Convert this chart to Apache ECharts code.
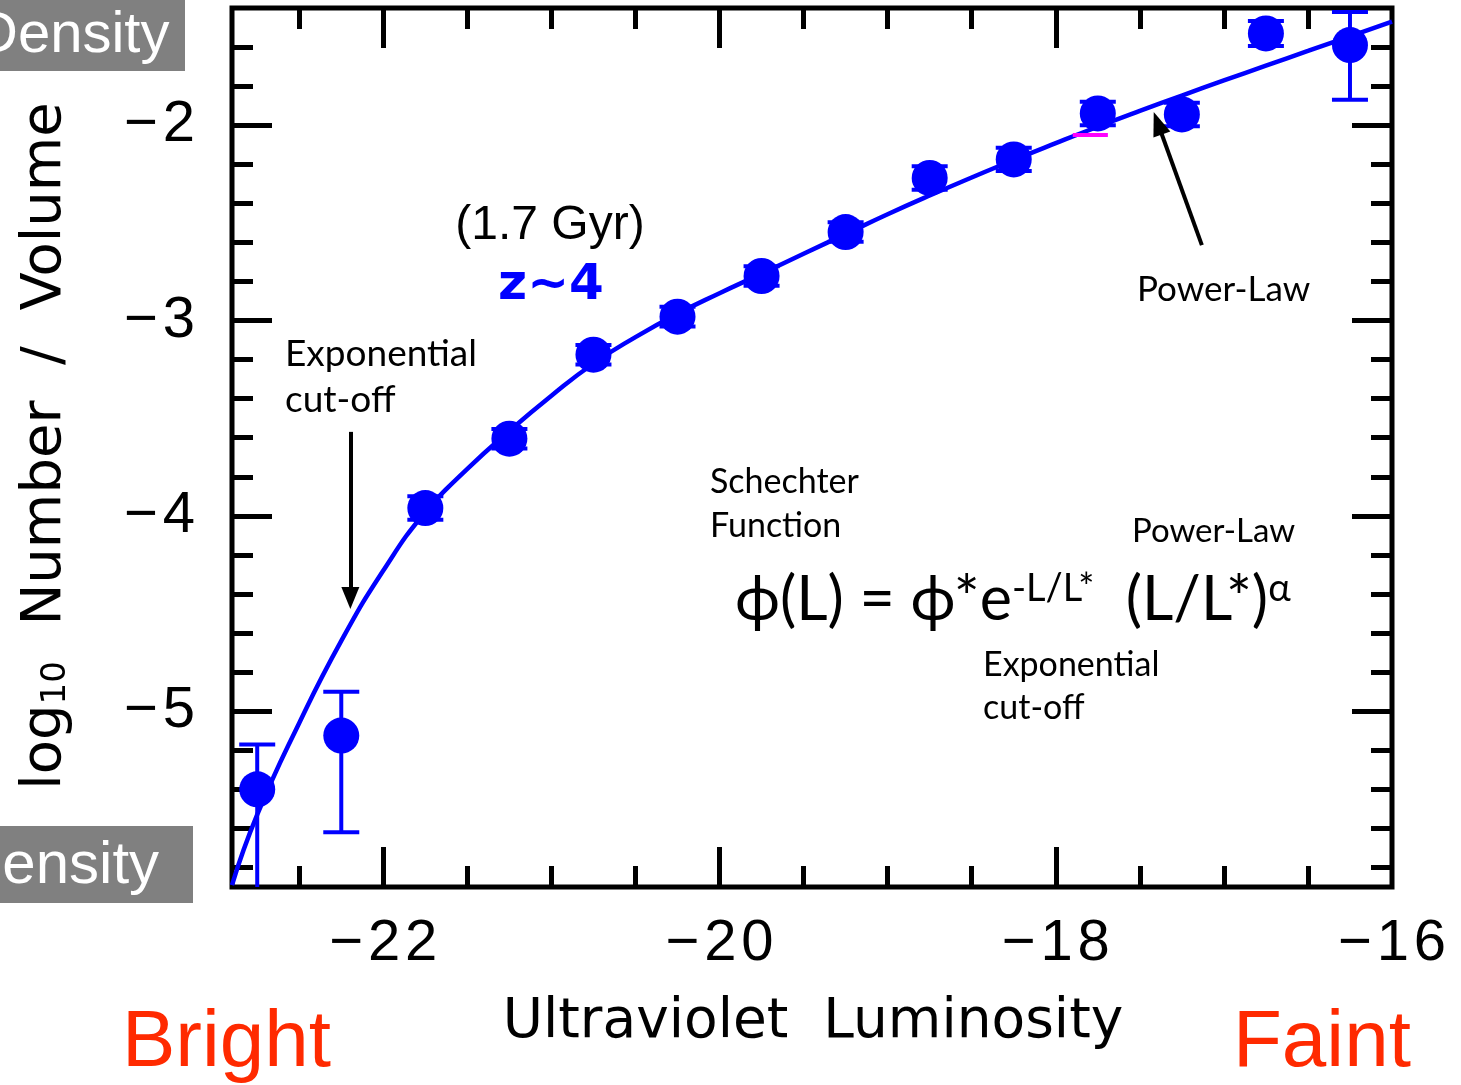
<!DOCTYPE html>
<html>
<head>
<meta charset="utf-8">
<script src="https://cdn.jsdelivr.net/npm/echarts@6/dist/echarts.min.js"></script>
<style>
  html, body { margin: 0; padding: 0; background: #fff; }
  #chart { width: 1461px; height: 1085px; }
</style>
</head>
<body>
<div id="chart"></div>
<script>
// binned points (UV absolute magnitude, log10 number density)
const mag = [-22.75, -22.25, -21.75, -21.25, -20.75, -20.25, -19.75, -19.25, -18.75, -18.25, -17.75, -17.25, -16.75, -16.25];
const logPhi = [-5.40, -5.125, -3.96, -3.605, -3.175, -2.98, -2.772, -2.547, -2.27, -2.175, -1.94, -1.945, -1.53, -1.59];
const errLo = [-6.3, -5.62, -4.02, -3.655, -3.225, -3.03, -2.822, -2.597, -2.33, -2.235, -2.0, -2.005, -1.594, -1.87];
const errHi = [-5.17, -4.90, -3.90, -3.555, -3.125, -2.93, -2.722, -2.497, -2.21, -2.115, -1.88, -1.885, -1.466, -1.42];

// fitted Schechter curve
const curveMag = [-22.9, -22.75, -22.5, -22.25, -22.0, -21.75, -21.5, -21.25, -21.0, -20.75, -20.5, -20.25, -20.0,
  -19.75, -19.5, -19.25, -19.0, -18.75, -18.5, -18.25, -18.0, -17.75, -17.5, -17.25, -17.0, -16.75, -16.5, -16.25, -16.0];
const curveLogPhi = [-5.89, -5.53, -5.06, -4.64, -4.28, -3.98, -3.76, -3.565, -3.385, -3.22, -3.085, -2.965, -2.86,
  -2.76, -2.658, -2.557, -2.456, -2.36, -2.268, -2.178, -2.092, -2.008, -1.927, -1.848, -1.771, -1.695, -1.62, -1.545, -1.47];

// ticks
const xLabels = [-22, -20, -18, -16];
const xMinor = [-22.5, -21.5, -21, -20.5, -19.5, -19, -18.5, -17.5, -17, -16.5];
const yLabels = [-2, -3, -4, -5];
const yMinor = [-1.6, -1.8, -2.2, -2.4, -2.6, -2.8, -3.2, -3.4, -3.6, -3.8, -4.2, -4.4, -4.6, -4.8, -5.2, -5.4, -5.6, -5.8];

const xMin = -22.9, xMax = -16, yMin = -5.9, yMax = -1.4;
const blue = '#0000ff';
// IDL-style loosely spaced labels
const minus = v => '\u2212\u200a' + String(Math.abs(v)).split('').join('\u200a');

const chart = echarts.init(document.getElementById('chart'));

const gridBox = { left: 232, right: 69, top: 8, bottom: 198, containLabel: false, outerBoundsMode: 'none' };

function xAx(grid, pos, ticks, len, labels) {
  return {
    type: 'value', gridIndex: grid, position: pos, min: xMin, max: xMax,
    axisLine: { show: false },
    splitLine: { show: false },
    axisTick: { show: true, inside: true, length: len, customValues: ticks, lineStyle: { color: '#000', width: 5 } },
    axisLabel: labels ? {
      show: true, customValues: labels, formatter: minus, margin: 28, showMaxLabel: true, showMinLabel: true,
      fontFamily: 'Liberation Sans', fontSize: 58, color: '#000'
    } : { show: false }
  };
}
function yAx(grid, pos, ticks, len, labels) {
  return {
    type: 'value', gridIndex: grid, position: pos, min: yMin, max: yMax,
    axisLine: { show: false },
    splitLine: { show: false },
    axisTick: { show: true, inside: true, length: len, customValues: ticks, lineStyle: { color: '#000', width: 5 } },
    axisLabel: labels ? {
      show: true, customValues: labels, formatter: minus, margin: 37,
      fontFamily: 'Liberation Sans', fontSize: 58, color: '#000'
    } : { show: false }
  };
}

const annoFont = "Lato, 'DejaVu Sans', sans-serif";
function note(text, x, y, size) {
  return { type: 'text', x: x, y: y, z: 10, style: { text: text, fill: '#000', font: size + 'px ' + annoFont, textAlign: 'left', textVerticalAlign: 'middle' } };
}

const option = {
  backgroundColor: '#fff',
  animation: false,
  grid: [
    Object.assign({ show: true, borderColor: '#000', borderWidth: 5, backgroundColor: 'transparent' }, gridBox),
    Object.assign({ show: false }, gridBox)
  ],
  xAxis: [
    xAx(0, 'bottom', [-22, -20, -18], 40, xLabels),
    xAx(0, 'top', [-22, -20, -18], 40, null),
    xAx(1, 'bottom', xMinor, 21, null),
    xAx(1, 'top', xMinor, 21, null)
  ],
  yAxis: [
    yAx(0, 'left', yLabels, 40, yLabels),
    yAx(0, 'right', yLabels, 40, null),
    yAx(1, 'left', yMinor, 21, null),
    yAx(1, 'right', yMinor, 21, null)
  ],
  series: [
    {
      type: 'line', xAxisIndex: 0, yAxisIndex: 0, z: 2,
      data: curveMag.map((m, i) => [m, curveLogPhi[i]]),
      smooth: 0.5, showSymbol: false, clip: true,
      lineStyle: { color: blue, width: 4.5 },
      markLine: {
        silent: true, animation: false,
        label: { show: false },
        data: [
          [{ coord: [-22.196, -3.57], symbol: 'none' },
           { coord: [-22.196, -4.42], symbol: 'triangle', symbolSize: [18, 22], symbolRotate: 180 }],
          [{ coord: [-17.131, -2.614], symbol: 'none' },
           { coord: [-17.393, -1.99], symbol: 'triangle', symbolSize: [18, 24] }],
          [{ coord: [-17.899, -2.051], symbol: 'none', lineStyle: { color: '#ff00ff', width: 4, type: 'solid' } },
           { coord: [-17.69, -2.051], symbol: 'none' }]
        ],
        lineStyle: { color: '#000', width: 4, type: 'solid' },
        itemStyle: { color: '#000' }
      }
    },
    {
      type: 'custom', xAxisIndex: 0, yAxisIndex: 0, z: 3, clip: true,
      data: mag.map((m, i) => [m, errLo[i], errHi[i]]),
      encode: { x: 0, y: [1, 2] },
      renderItem: function (params, api) {
        const x = api.value(0);
        const lo = api.coord([x, api.value(1)]);
        const hi = api.coord([x, api.value(2)]);
        const hw = 18;
        const st = { stroke: blue, lineWidth: 4 };
        return {
          type: 'group',
          children: [
            { type: 'line', shape: { x1: lo[0], y1: lo[1], x2: hi[0], y2: hi[1] }, style: st },
            { type: 'line', shape: { x1: lo[0] - hw, y1: lo[1], x2: lo[0] + hw, y2: lo[1] }, style: st },
            { type: 'line', shape: { x1: hi[0] - hw, y1: hi[1], x2: hi[0] + hw, y2: hi[1] }, style: st }
          ]
        };
      }
    },
    {
      type: 'scatter', xAxisIndex: 0, yAxisIndex: 0, z: 4,
      data: mag.map((m, i) => [m, logPhi[i]]),
      symbol: 'circle', symbolSize: 36,
      itemStyle: { color: blue, opacity: 1 }
    }
  ],
  graphic: [
    // grey "Density" tabs
    { type: 'rect', shape: { x: 0, y: 0, width: 185, height: 71 }, style: { fill: '#808080' }, z: 10 },
    { type: 'text', x: -24, y: 36, z: 11, style: { text: 'Density', fill: '#fff', font: "58px 'Liberation Sans'", textVerticalAlign: 'middle' } },
    { type: 'rect', shape: { x: 0, y: 826, width: 193, height: 77 }, style: { fill: '#808080' }, z: 10 },
    { type: 'text', x: -41, y: 866, z: 11, style: { text: 'Density', fill: '#fff', font: "60px 'Liberation Sans'", textVerticalAlign: 'middle' } },

    // axis titles
    { type: 'text', x: 813, y: 1023, z: 10, style: { text: 'Ultraviolet  Luminosity', fill: '#000', font: "55px 'DejaVu Sans'", textAlign: 'center', textVerticalAlign: 'middle' } },
    {
      type: 'text', x: 45, y: 446, rotation: Math.PI / 2, z: 10,
      style: {
        text: '{a|log}{b|10}{a|  Number  /  Volume}', fill: '#000', textAlign: 'center', textVerticalAlign: 'middle',
        rich: {
          a: { font: "56px 'DejaVu Sans'", fill: '#000' },
          b: { font: "34px 'DejaVu Sans'", fill: '#000', verticalAlign: 'bottom' }
        }
      }
    },
    { type: 'text', x: 122, y: 1044, z: 10, style: { text: 'Bright', fill: '#ff2a00', font: "80px 'Liberation Sans'", textVerticalAlign: 'middle' } },
    { type: 'text', x: 1233, y: 1044, z: 10, style: { text: 'Faint', fill: '#ff2a00', font: "80px 'Liberation Sans'", textVerticalAlign: 'middle' } },

    // labels inside the plot
    { type: 'text', x: 550, y: 226, z: 10, style: { text: '(1.7 Gyr)', fill: '#000', font: "48px 'Liberation Sans'", textAlign: 'center', textVerticalAlign: 'middle' } },
    { type: 'text', x: 551, y: 286, z: 10, style: { text: 'z~4', fill: blue, font: "bold 50px 'DejaVu Sans'", textAlign: 'center', textVerticalAlign: 'middle' } },
    note('Exponential', 285, 354, 37),
    note('cut-off', 285, 400, 37),
    note('Power-Law', 1137, 290, 35),
    note('Schechter', 710, 482, 34),
    note('Function', 710, 526, 34),
    note('Power-Law', 1132, 531, 33),
    note('Exponential', 983, 665, 34),
    note('cut-off', 983, 708, 34),
    {
      type: 'text', x: 735, y: 600, z: 10,
      style: {
        text: '{m|\u03d5(L) = \u03d5*e}{s|-L/L*}{m|  (L/L*)}{s|\u03b1}', textAlign: 'left', textVerticalAlign: 'middle',
        rich: {
          m: { font: '61px ' + annoFont, fill: '#000' },
          s: { font: '38px ' + annoFont, fill: '#000', verticalAlign: 'top' }
        }
      }
    }
  ]
};

chart.setOption(option);
</script>
</body>
</html>
